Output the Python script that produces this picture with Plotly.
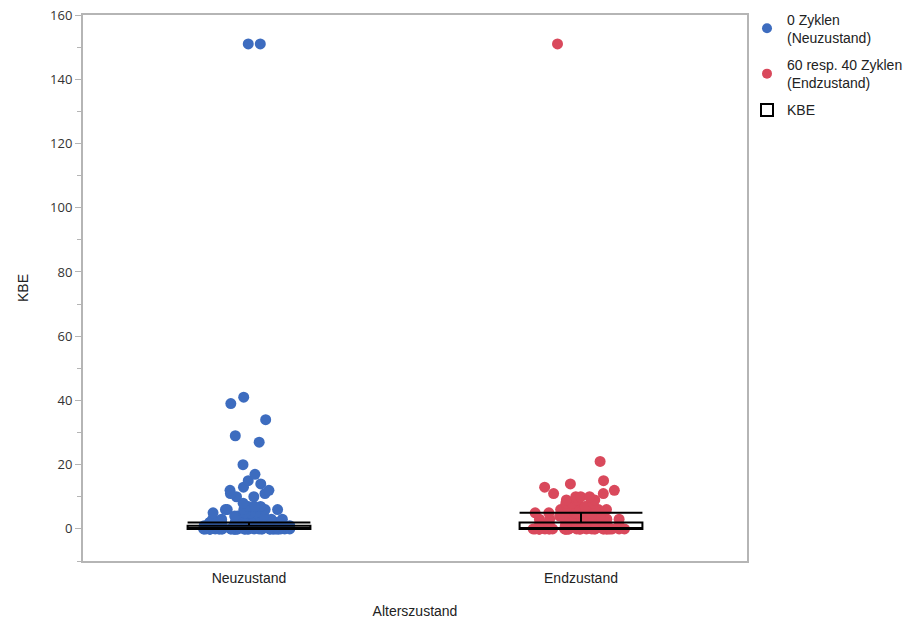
import plotly.graph_objects as go

categories = ["Neuzustand", "Endzustand"]

# KBE values, 0 Zyklen (Neuzustand)
neu_values = (
    [0] * 45 + [1] * 25 + [2] * 15 + [3] * 10 + [4] * 8 + [5] * 6 + [6] * 5
    + [7, 7, 7, 8, 10, 10, 11, 11, 12, 12, 13, 14, 15, 17, 20, 27, 29, 34, 39, 41, 151, 151]
)
# KBE values, 60 resp. 40 Zyklen (Endzustand)
end_values = (
    [0] * 35 + [1] * 15 + [2] * 14 + [3] * 12 + [4] * 10 + [5] * 8
    + [6] * 6 + [7] * 5 + [8] * 4 + [9] * 3 + [10] * 3
    + [11, 11, 12, 13, 14, 15, 21, 151]
)

# Box statistics (KBE)
box_q1 = [0, 0]
box_median = [0, 0]
box_q3 = [1, 2]
box_lower = [0, 0]
box_upper = [2, 5]

series_names = ["0 Zyklen<br>(Neuzustand)", "60 resp. 40 Zyklen<br>(Endzustand)"]
series_colors = ["#3d6cbf", "#d9495c"]

# value tiers, each jittered on its own so sparse points spread as well
tier_edges = [(-1, 0), (0, 2), (2, 5), (5, 10), (10, 20), (20, 1000)]
tier_jitter = {
    "Neuzustand": [0.75, 0.75, 0.7, 0.6, 0.5, 0.35],
    "Endzustand": [0.8, 0.8, 0.8, 0.8, 0.7, 0.6],
}

fig = go.Figure()

# legend entries (dots)
for i, (name, col) in enumerate(zip(series_names, series_colors)):
    fig.add_trace(go.Scatter(
        x=[None], y=[None], mode="markers", name=name, legendgroup=f"g{i}",
        marker=dict(color=col, size=10),
    ))

# jittered points
for cat, vals, col in zip(categories, [neu_values, end_values], series_colors):
    for (lo, hi), jit in zip(tier_edges, tier_jitter[cat]):
        sub = [v for v in vals if lo < v <= hi]
        if not sub:
            continue
        fig.add_trace(go.Box(
            x=[cat] * len(sub), y=sub, boxpoints="all", jitter=jit, pointpos=0,
            marker=dict(color=col, size=11, opacity=1, line=dict(width=0)),
            line=dict(width=0, color="rgba(0,0,0,0)"),
            fillcolor="rgba(0,0,0,0)", width=0.37, showlegend=False,
            hoverinfo="y",
        ))

# KBE box
fig.add_trace(go.Box(
    x=categories, q1=box_q1, median=box_median, q3=box_q3,
    lowerfence=box_lower, upperfence=box_upper, legendgroup="g2",
    name="KBE", boxpoints=False, width=0.37, whiskerwidth=1,
    line=dict(color="black", width=2), fillcolor="rgba(255,255,255,0)",
))

fig.update_layout(
    width=923, height=622,
    margin=dict(l=83, r=176, t=15, b=61, autoexpand=False),
    plot_bgcolor="white", paper_bgcolor="white",
    boxmode="overlay",
    font=dict(family="Liberation Sans, Arial, sans-serif", size=14, color="#222"),
    legend=dict(x=1.0, y=1.021, xanchor="left", yanchor="top",
                font=dict(size=14, color="#222"), traceorder="grouped",
                tracegroupgap=6, bgcolor="rgba(0,0,0,0)"),
    xaxis=dict(
        type="category", categoryorder="array", categoryarray=categories,
        range=[-0.5, 1.5], showline=True, linecolor="#b5b5b5", linewidth=2,
        mirror=True, showgrid=False, ticks="", zeroline=False, automargin=False,
        title=dict(text="Alterszustand", standoff=21, font=dict(size=14)),
        tickfont=dict(size=14, color="#222"), ticklabelstandoff=3,
    ),
    yaxis=dict(
        range=[-10, 160], tickvals=[0, 20, 40, 60, 80, 100, 120, 140, 160],
        showline=True, linecolor="#b5b5b5", linewidth=2, mirror=True,
        showgrid=False, zeroline=False, ticks="outside", ticklen=6,
        tickcolor="#b5b5b5", tickwidth=1, automargin=False,
        minor=dict(dtick=10, ticks="outside", ticklen=4, tickcolor="#b5b5b5"),
        tickfont=dict(family="Open Sans, sans-serif", size=13, color="#333"),
        title=dict(text="KBE", standoff=18, font=dict(size=14)),
    ),
)

fig.write_html("out.html")
